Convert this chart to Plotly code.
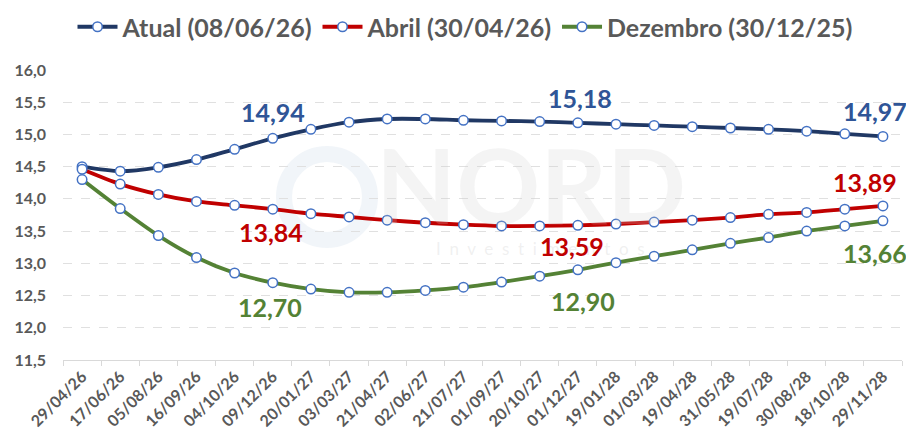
import plotly.graph_objects as go

dates = ["29/04/26", "17/06/26", "05/08/26", "16/09/26", "04/10/26", "09/12/26",
         "20/01/27", "03/03/27", "21/04/27", "02/06/27", "21/07/27", "01/09/27",
         "20/10/27", "01/12/27", "19/01/28", "01/03/28", "19/04/28", "31/05/28",
         "19/07/28", "30/08/28", "18/10/28", "29/11/28"]

atual = [14.50, 14.43, 14.49, 14.61, 14.77, 14.94, 15.08, 15.19, 15.24, 15.24, 15.22,
         15.21, 15.20, 15.18, 15.16, 15.14, 15.12, 15.10, 15.08, 15.05, 15.01, 14.97]
abril = [14.46, 14.23, 14.07, 13.96, 13.90, 13.84, 13.77, 13.72, 13.67, 13.63, 13.60,
         13.58, 13.58, 13.59, 13.61, 13.64, 13.67, 13.71, 13.76, 13.79, 13.84, 13.89]
dezembro = [14.30, 13.85, 13.43, 13.09, 12.85, 12.70, 12.60, 12.55, 12.55, 12.58, 12.63,
            12.71, 12.80, 12.90, 13.01, 13.11, 13.21, 13.31, 13.40, 13.50, 13.58, 13.66]

series_names = ["Atual (08/06/26)", "Abril (30/04/26)", "Dezembro (30/12/25)"]
y_ticks = [11.5, 12.0, 12.5, 13.0, 13.5, 14.0, 14.5, 15.0, 15.5, 16.0]
labeled_idx = [5, 13, 21]

# label offsets (px) per series, per labelled point: (dx, dy)
label_offsets = {
    0: [(0, 26), (2, 25), (-8, 25)],
    1: [(-2, -23), (-6, -21), (-18, 24)],
    2: [(-3, -24), (5, -31), (-8, -32)],
}

line_colors = ["#203864", "#C00000", "#548235"]
label_colors = ["#2F5597", "#C00000", "#548235"]
FONT = "Lato, Liberation Sans, Arial, sans-serif"
GRAY = "#595959"

# page body has an 8px margin: figure is sized to the visible window minus it
OFF = 8
W, H = 914 - OFF, 439 - OFF
L, R, T, B = 63 - OFF, 12, 70 - OFF, 79
PW, PH = W - L - R, H - T - B


def px(x):  # screen px -> paper fraction
    return (x - OFF - L) / PW


def py(y):
    return (H - B - (y - OFF)) / PH


fig = go.Figure()

# watermark (logo ring + text), very faint
fig.add_shape(type="circle", xref="paper", yref="paper",
              x0=px(284), x1=px(370), y0=py(240), y1=py(154),
              line=dict(color="rgba(215,225,238,0.35)", width=16), layer="below")
fig.add_annotation(x=px(531), y=py(183), xref="paper", yref="paper", text="<b>NORD</b>",
                   showarrow=False,
                   font=dict(size=104, color="rgba(205,205,205,0.22)", family=FONT, weight=900))
fig.add_annotation(x=px(540), y=py(248), xref="paper", yref="paper",
                   text="I  n  v  e  s  t  i  m  e  n  t  o  s", showarrow=False,
                   font=dict(size=17, color="rgba(205,205,205,0.3)", family=FONT))

data = [atual, abril, dezembro]
for i, (name, vals) in enumerate(zip(series_names, data)):
    fig.add_trace(go.Scatter(
        x=dates, y=vals, name=name, mode="lines+markers",
        line=dict(color=line_colors[i], width=3.8, shape="spline", smoothing=0.8),
        marker=dict(size=9.5, color="white", line=dict(color="#4472C4", width=1.5)),
    ))

for si, offs in label_offsets.items():
    for idx, (dx, dy) in zip(labeled_idx, offs):
        v = data[si][idx]
        fig.add_annotation(
            x=dates[idx], y=v, xref="x", yref="y",
            text="<b>" + f"{v:.2f}".replace(".", ",") + "</b>",
            showarrow=False, xshift=dx, yshift=dy,
            font=dict(size=25, color=label_colors[si], family=FONT),
        )

fig.update_layout(
    width=W, height=H,
    margin=dict(l=L, r=R, t=T, b=B, autoexpand=False),
    paper_bgcolor="white", plot_bgcolor="white",
    separators=",.",
    font=dict(family=FONT, color=GRAY),
    showlegend=True,
    legend=dict(orientation="h", x=px(465), xanchor="center", y=py(27), yanchor="middle",
                font=dict(size=25, color=GRAY, family=FONT, weight="bold"),
                itemwidth=40, tracegroupgap=0),
)
fig.update_xaxes(
    type="category", range=[-0.5, len(dates) - 0.5], automargin=False,
    tickangle=-45, tickfont=dict(size=16, color=GRAY, family=FONT, weight="bold"),
    showline=True, linecolor="#D9D9D9", linewidth=1,
    ticks="outside", tickson="boundaries", ticklen=5, tickcolor="#D9D9D9",
    showgrid=False,
)
fig.update_yaxes(
    range=[11.5, 16.0], tickvals=y_ticks, tickformat=".1f", automargin=False,
    tickfont=dict(size=16, color=GRAY, family=FONT, weight="bold"),
    showgrid=True, gridcolor="#E0E0E0", griddash="dash", gridwidth=1,
    zeroline=False, showline=False, ticks="", ticklabelstandoff=16,
)

fig.write_html("out.html")
